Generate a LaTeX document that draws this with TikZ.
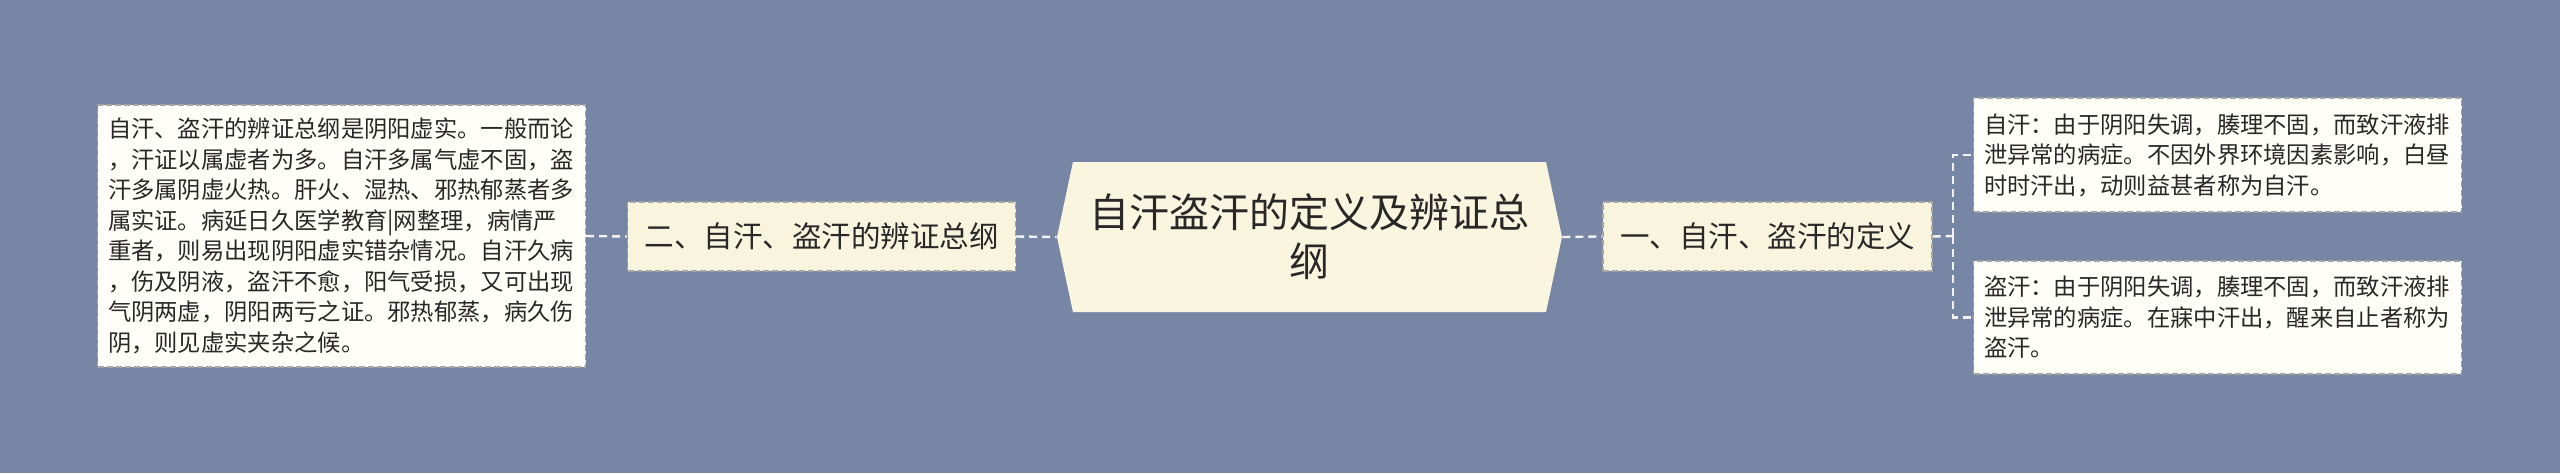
\documentclass[tikz,border=0pt]{standalone}
\usepackage{fontspec}
\setmainfont{Noto Sans CJK SC}
\usetikzlibrary{shapes.symbols}
\definecolor{bgblue}{RGB}{120,134,165}
\definecolor{titlecream}{RGB}{250,245,223}
\definecolor{branchcream}{RGB}{248,244,222}
\definecolor{leafwhite}{RGB}{255,254,248}
\definecolor{bordergray}{RGB}{165,165,165}
\definecolor{linewhite}{RGB}{242,242,242}
\definecolor{textgray}{RGB}{40,40,40}

\begin{document}
\begin{tikzpicture}[%
          x=0.5pt, y=-0.5pt,
          every node/.style={text=textgray, inner sep=0pt},
          leaf/.style={draw=bordergray, fill=leafwhite, line width=0.6pt,
            dash pattern=on 3pt off 1.5pt, text width=233.5pt, align=left,
            inner xsep=5.25pt, font=\fontsize{11.65pt}{15.25pt}\selectfont},
          branch/.style={draw=bordergray, fill=branchcream, line width=0.6pt,
            dash pattern=on 3pt off 1.5pt, minimum height=34.5pt,
            inner xsep=8.5pt, font=\fontsize{14.75pt}{18pt}\selectfont},
          link/.style={draw=linewhite, line width=1.2pt, dash pattern=on 4pt off 2.5pt}]
          \fill[bgblue] (0,0) rectangle (2560,473);
          \node[signal, signal to=west and east, signal pointer angle=156,
            minimum width=252.5pt, minimum height=75pt, fill=titlecream,
            align=center, font=\fontsize{20pt}{24.5pt}\selectfont]
            (title) at (1309.5,237) {自汗盗汗的定义及辨证总\\纲};
          \node[branch] (two) at (821.5,236.5) {二、自汗、盗汗的辨证总纲};
          \node[branch] (one) at (1767.5,236.5) {一、自汗、盗汗的定义};
          \node[leaf, minimum height=131pt] (summary) at (341.5,236) {%
            自汗、盗汗的辨证总纲是阴阳虚实。一般而论\\
            ，汗证以属虚者为多。自汗多属气虚不固，盗\\
            汗多属阴虚火热。肝火、湿热、邪热郁蒸者多\\
            属实证。病延日久医学教育|网整理，病情严\\
            重者，则易出现阴阳虚实错杂情况。自汗久病\\
            ，伤及阴液，盗汗不愈，阳气受损，又可出现\\
            气阴两虚，阴阳两亏之证。邪热郁蒸，病久伤\\
            阴，则见虚实夹杂之候。};
          \node[leaf, minimum height=57pt] (zihan) at (2217.5,155) {%
            自汗：由于阴阳失调，腠理不固，而致汗液排\\
            泄异常的病症。不因外界环境因素影响，白昼\\
            时时汗出，动则益甚者称为自汗。};
          \node[leaf, minimum height=56.5pt] (daohan) at (2217.5,317.5) {%
            盗汗：由于阴阳失调，腠理不固，而致汗液排\\
            泄异常的病症。在寐中汗出，醒来自止者称为\\
            盗汗。};
          \coordinate (fork) at (1953,236);
          \draw[link] (summary.east) -- (two.west);
          \draw[link] (two.east) -- (title.west);
          \draw[link] (title.east) -- (one.west);
          \draw[link] (one.east) -- (fork);
          \draw[link] (fork) |- (zihan.west);
          \draw[link] (fork) |- (daohan.west);
\end{tikzpicture}
\end{document}
